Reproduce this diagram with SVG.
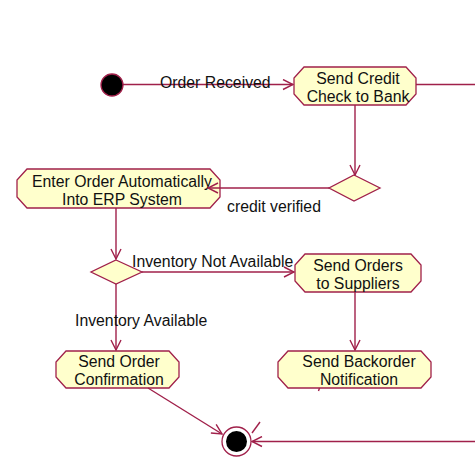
<svg xmlns="http://www.w3.org/2000/svg" width="475" height="461" viewBox="0 0 475 461">
  <style>
    .act { fill: #FFFFCC; stroke: #A0204A; stroke-width: 1.3; }
    .dec { fill: #FFFFCC; stroke: #A0204A; stroke-width: 1.3; }
    .ln { fill: none; stroke: #A0204A; stroke-width: 1.4; }
    .t { font-family: "Liberation Sans", Arial, sans-serif; font-size: 15.8px; fill: #111; }
    .c { text-anchor: middle; }
  </style>
  <defs>
    <marker id="open" viewBox="0 0 12 12" refX="11" refY="6" markerWidth="12" markerHeight="12" markerUnits="userSpaceOnUse" orient="auto">
      <path d="M1,1 L11,6 L1,11" fill="none" stroke="#A0204A" stroke-width="1.4"/>
    </marker>
  </defs>

  <rect width="475" height="461" fill="#FFFFFF"/>

  <g id="start">
    <circle cx="112" cy="85" r="11" fill="#000" stroke="#A0204A" stroke-width="1.3"/>
  </g>

  <g id="send-credit-check">
    <polygon class="act" points="304,67 406,67 416,78 416,94 406,105 304,105 294,94 294,78"/>
    <text class="t c" x="358" y="84">Send Credit</text>
    <text class="t c" x="358" y="102">Check to Bank</text>
  </g>

  <g id="credit-decision">
    <polygon class="dec" points="354,175 380,188 354,201 329,188"/>
  </g>

  <g id="enter-order">
    <polygon class="act" points="27,169 210,169 220,180 220,197 210,208 27,208 17,197 17,180"/>
    <text class="t c" x="122" y="187">Enter Order Automatically</text>
    <text class="t c" x="122" y="205">Into ERP System</text>
  </g>

  <g id="inventory-decision">
    <polygon class="dec" points="116,260 142,272 116,284 91,272"/>
  </g>

  <g id="send-orders">
    <polygon class="act" points="305,254 411,254 421,265 421,281 411,292 305,292 295,281 295,265"/>
    <text class="t c" x="358" y="271">Send Orders</text>
    <text class="t c" x="358" y="289">to Suppliers</text>
  </g>

  <g id="send-confirmation">
    <polygon class="act" points="66,351 169,351 179,362 179,377 169,388 66,388 56,377 56,362"/>
    <text class="t c" x="119" y="367">Send Order</text>
    <text class="t c" x="119" y="385">Confirmation</text>
  </g>

  <g id="send-backorder">
    <polygon class="act" points="288,351 421,351 431,362 431,377 421,388 288,388 278,377 278,362"/>
    <text class="t c" x="359" y="367">Send Backorder</text>
    <text class="t c" x="359" y="385">Notification</text>
  </g>

  <g id="end">
    <circle cx="236.5" cy="441.5" r="14.5" fill="#FFFFFF" stroke="#A0204A" stroke-width="1.3"/>
    <circle cx="236.5" cy="441.5" r="10.5" fill="#000"/>
  </g>

  <!-- transitions drawn over the nodes -->
  <g id="connectors">
    <line class="ln" x1="123" y1="84.5" x2="293" y2="84.5" marker-end="url(#open)"/>
    <line class="ln" x1="416" y1="84.5" x2="475" y2="84.5"/>
    <line class="ln" x1="355" y1="105" x2="355" y2="175" marker-end="url(#open)"/>
    <line class="ln" x1="329" y1="188" x2="208" y2="188" marker-end="url(#open)"/>
    <line class="ln" x1="116" y1="208" x2="116" y2="259" marker-end="url(#open)"/>
    <line class="ln" x1="142" y1="272" x2="294" y2="272" marker-end="url(#open)"/>
    <line class="ln" x1="116" y1="284" x2="116" y2="350" marker-end="url(#open)"/>
    <line class="ln" x1="355" y1="292" x2="355" y2="350" marker-end="url(#open)"/>
    <line class="ln" x1="148" y1="388" x2="222" y2="434" marker-end="url(#open)"/>
    <path class="ln" d="M319.5,388 L318.5,391"/>
    <path class="ln" d="M260,422 L252,433"/>
    <line class="ln" x1="475" y1="441.5" x2="252" y2="441.5" marker-end="url(#open)"/>
    <text class="t" x="160" y="88">Order Received</text>
    <text class="t" x="227" y="212">credit verified</text>
    <text class="t" x="132" y="267">Inventory Not Available</text>
    <text class="t" x="75" y="326">Inventory Available</text>
  </g>
</svg>
